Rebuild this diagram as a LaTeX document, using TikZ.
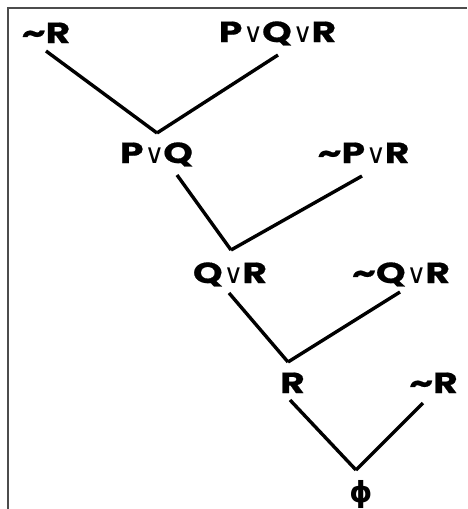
\documentclass[tikz,border=0pt]{standalone}
\usepackage{fontspec}
\newfontfamily\labfont{Poppins}[UprightFont=* Bold, FakeStretch=1.3, FakeBold=0.6]
\newfontfamily\orfont{DejaVu Sans}
\newfontfamily\phifont{DejaVu Sans Bold}
\newcommand{\orsym}{{\orfont\fontsize{27}{27}\selectfont\kern1pt\symbol{"2228}\kern-1pt}}
\begin{document}
\begin{tikzpicture}[x=1pt,y=-1pt,
  lab/.style={inner sep=0pt, anchor=base, font=\labfont\fontsize{29}{29}\selectfont},
  edge/.style={line width=3.4pt, black},
  frame/.style={line width=1.6pt, black!70}]
\useasboundingbox (0,0) rectangle (467,509);
\draw[frame] (8,509) -- (8,8) -- (467,8);
% labels
\node[lab] (nr1) at (46,43) {\symbol{"7E}R};
\node[lab] (pqr) at (277.5,42) {P\orsym Q\orsym R};
\node[lab] (pq) at (156.5,163) {P\orsym Q};
\node[lab] (npr) at (363.5,163) {\symbol{"7E}P\orsym R};
\node[lab] (qr) at (230,283) {Q\orsym R};
\node[lab] (nqr) at (401,283) {\symbol{"7E}Q\orsym R};
\node[lab] (r) at (292.5,393) {R};
\node[lab] (nr2) at (433.5,393) {\symbol{"7E}R};
\node[inner sep=0pt, anchor=base, font=\phifont\fontsize{29}{29}\selectfont] (phi) at (361,502) {\symbol{"03D5}};
% junctions
\coordinate (v1) at (157,133);
\coordinate (v2) at (231,250);
\coordinate (v3) at (288,362);
\coordinate (v4) at (356,470);
% connectors
\draw[edge] ([yshift=-8pt]nr1.base) -- (v1);
\draw[edge] ([xshift=0.5pt,yshift=-13pt]pqr.base) -- (v1);
\draw[edge] ([xshift=20.5pt,yshift=-12pt]pq.base) -- (v2);
\draw[edge] ([xshift=-1.5pt,yshift=-13pt]npr.base) -- (v2);
\draw[edge] ([xshift=-1pt,yshift=-10pt]qr.base) -- (v3);
\draw[edge] ([xshift=-1pt,yshift=-9pt]nqr.base) -- (v3);
\draw[edge] ([xshift=-2.5pt,yshift=-7pt]r.base) -- (v4);
\draw[edge] ([xshift=-10.5pt,yshift=-10pt]nr2.base) -- (v4);
\end{tikzpicture}
\end{document}
